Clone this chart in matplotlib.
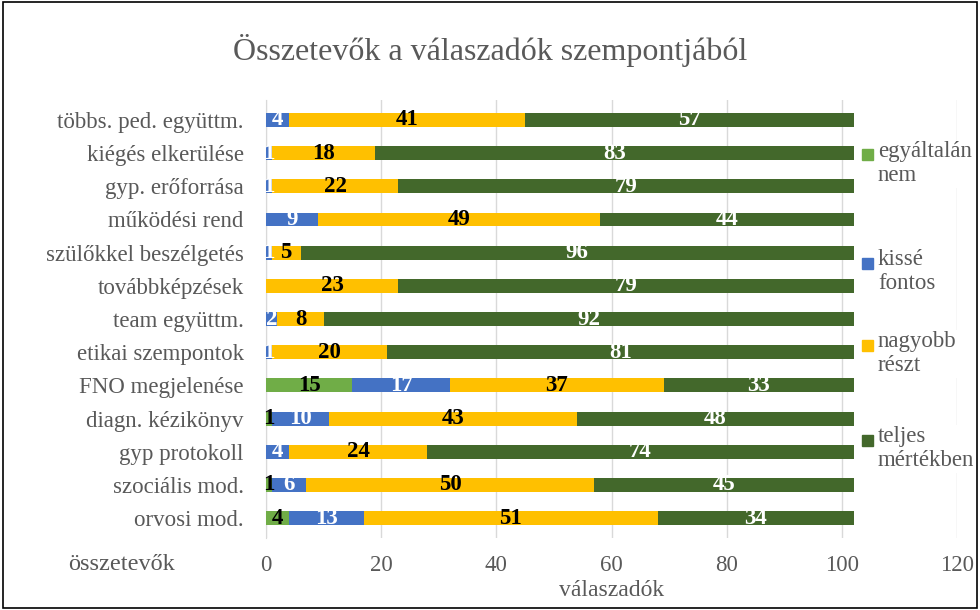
import numpy as np
import matplotlib.pyplot as plt
from matplotlib.patches import Rectangle

plt.rcParams['font.family'] = ['Liberation Serif', 'DejaVu Serif']

# Data (top to bottom as shown)
categories = ['többs. ped. együttm.', 'kiégés elkerülése', 'gyp. erőforrása',
              'működési rend', 'szülőkkel beszélgetés', 'továbbképzések',
              'team együttm.', 'etikai szempontok', 'FNO megjelenése',
              'diagn. kézikönyv', 'gyp protokoll', 'szociális mod.', 'orvosi mod.']
egyaltalan_nem = [0, 0, 0, 0, 0, 0, 0, 0, 15, 1, 0, 1, 4]
kisse_fontos = [4, 1, 1, 9, 1, 0, 2, 1, 17, 10, 4, 6, 13]
nagyobb_reszt = [41, 18, 22, 49, 5, 23, 8, 20, 37, 43, 24, 50, 51]
teljes_mertekben = [57, 83, 79, 44, 96, 79, 92, 81, 33, 48, 74, 45, 34]
series_names = ['egyáltalán\nnem', 'kissé\nfontos', 'nagyobb\nrészt', 'teljes\nmértékben']
colors = ['#70ad47', '#4472c4', '#ffc000', '#43682b']
label_colors = ['black', 'white', 'black', 'white']

gray = '#595959'

fig = plt.figure(figsize=(9.8, 6.1), dpi=100)
ax = fig.add_axes([0.2714, 0.118, 0.7055, 0.718])

y = np.arange(len(categories))[::-1]
left = np.zeros(len(categories))
series = [egyaltalan_nem, kisse_fontos, nagyobb_reszt, teljes_mertekben]
for vals, name, col, lc in zip(series, series_names, colors, label_colors):
    vals = np.array(vals, dtype=float)
    ax.barh(y, vals, left=left, height=0.42, color=col, label=name, zorder=3)
    for yi, l, v in zip(y, left, vals):
        if v > 0:
            ax.text(l + v / 2, yi, '%d' % v, ha='center', va='center',
                    color=lc, fontsize=16.5, fontweight='bold', zorder=4)
    left += vals

ax.set_xlim(0, 120)
ax.set_ylim(-0.6, len(categories) - 0.4)
ax.set_xticks(np.arange(0, 121, 20))
ax.set_yticks(y)
ax.set_yticklabels(categories)
ax.tick_params(axis='both', length=0, labelsize=16.5, colors=gray)
ax.tick_params(axis='x', pad=12)
ax.tick_params(axis='y', pad=16)
ax.grid(axis='x', color='#d9d9d9', lw=1, zorder=0)
for s in ['top', 'right', 'bottom']:
    ax.spines[s].set_visible(False)
ax.spines['left'].set_color('#d9d9d9')
ax.set_xlabel('válaszadók', fontsize=17, color=gray, labelpad=3)

fig.text(0.5, 0.918, 'Összetevők a válaszadók szempontjából', ha='center', va='center',
         fontsize=23, color=gray)
fig.text(0.124, 0.074, 'összetevők', ha='center', va='center', fontsize=17.5, color=gray)

# legend drawn by hand (marker next to first text line, as in the original)
legend_y = [155, 263, 345, 440]
for name, col, yy in zip(series_names, colors, legend_y):
    yf = 1 - yy / 610
    fig.patches.append(Rectangle((862 / 980, yf - 5.5 / 610), 11 / 980, 11 / 610,
                                 transform=fig.transFigure, color=col, zorder=5))
    fig.text(878 / 980, yf + 14 / 610, name, ha='left', va='top', fontsize=16.5,
             color=gray, linespacing=1.2,
             bbox=dict(facecolor='white', edgecolor='none', pad=1), zorder=5)

fig.patches.append(Rectangle((0.003, 0.003), 0.994, 0.994, transform=fig.transFigure,
                             fill=False, edgecolor='black', lw=1.2))

plt.savefig('out.png', dpi=100)
plt.close()
